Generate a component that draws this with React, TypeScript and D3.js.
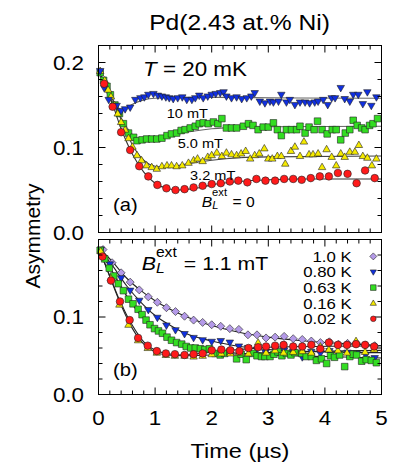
import React from "react";
import * as d3 from "d3";

type P = [number, number];

// ---------- Panel (a): T = 20 mK, various longitudinal fields ----------
const a_B10mT: P[] = [
  [0.03,0.190],[0.10,0.170],[0.18,0.156],[0.27,0.149],[0.32,0.149],[0.40,0.143],[0.47,0.145],[0.56,0.147],
  [0.65,0.156],[0.74,0.158],[0.81,0.159],[0.88,0.162],[0.97,0.163],[1.05,0.161],[1.12,0.160],[1.19,0.159],
  [1.25,0.158],[1.32,0.157],[1.40,0.158],[1.48,0.159],[1.56,0.156],[1.65,0.156],[1.71,0.158],[1.78,0.161],
  [1.85,0.158],[1.93,0.160],[2.00,0.162],[2.07,0.163],[2.15,0.164],[2.21,0.165],[2.26,0.160],[2.35,0.158],
  [2.44,0.159],[2.53,0.157],[2.62,0.158],[2.70,0.160],[2.76,0.164],[2.85,0.154],[2.94,0.152],[3.03,0.154],
  [3.09,0.153],[3.18,0.154],[3.23,0.162],[3.32,0.153],[3.38,0.156],[3.47,0.150],[3.56,0.153],[3.65,0.153],
  [3.73,0.152],[3.82,0.153],[3.88,0.154],[3.97,0.156],[4.05,0.150],[4.12,0.158],[4.18,0.158],[4.28,0.170],
  [4.35,0.157],[4.44,0.154],[4.50,0.162],[4.59,0.162],[4.67,0.151],[4.75,0.165],[4.82,0.149],[4.91,0.159],
];
const a_B5mT: P[] = [
  [0.03,0.188],[0.09,0.179],[0.15,0.172],[0.21,0.162],[0.29,0.150],[0.37,0.140],[0.44,0.128],[0.53,0.117],
  [0.62,0.112],[0.68,0.108],[0.77,0.109],[0.85,0.110],[0.94,0.110],[1.03,0.110],[1.12,0.111],[1.21,0.114],
  [1.29,0.116],[1.38,0.117],[1.46,0.120],[1.53,0.121],[1.62,0.123],[1.71,0.125],[1.78,0.128],[1.85,0.129],
  [1.94,0.128],[2.03,0.130],[2.11,0.128],[2.18,0.134],[2.26,0.123],[2.35,0.123],[2.44,0.123],[2.56,0.125],
  [2.65,0.128],[2.73,0.126],[2.82,0.121],[2.91,0.124],[3.00,0.124],[3.09,0.129],[3.16,0.121],[3.23,0.114],
  [3.32,0.121],[3.41,0.121],[3.50,0.121],[3.56,0.125],[3.65,0.117],[3.72,0.124],[3.81,0.121],[3.87,0.131],
  [3.95,0.121],[4.04,0.116],[4.13,0.121],[4.20,0.121],[4.28,0.109],[4.36,0.117],[4.44,0.121],[4.50,0.132],
  [4.57,0.126],[4.65,0.123],[4.71,0.121],[4.79,0.126],[4.85,0.128],[4.93,0.134],
];
const a_B3_2mT: P[] = [
  [0.03,0.190],[0.11,0.179],[0.17,0.168],[0.22,0.160],[0.28,0.150],[0.34,0.140],[0.40,0.130],[0.47,0.121],
  [0.53,0.111],[0.60,0.101],[0.68,0.091],[0.76,0.085],[0.85,0.079],[0.94,0.077],[1.03,0.075],[1.12,0.078],
  [1.21,0.079],[1.29,0.079],[1.38,0.078],[1.48,0.079],[1.59,0.082],[1.68,0.085],[1.75,0.087],[1.84,0.084],
  [1.93,0.089],[2.00,0.091],[2.09,0.094],[2.18,0.090],[2.26,0.094],[2.35,0.092],[2.44,0.091],[2.52,0.093],
  [2.60,0.096],[2.68,0.087],[2.76,0.091],[2.84,0.093],[2.93,0.099],[3.00,0.087],[3.07,0.087],[3.16,0.090],
  [3.23,0.090],[3.30,0.081],[3.40,0.096],[3.47,0.101],[3.56,0.090],[3.63,0.107],[3.72,0.092],[3.79,0.092],
  [3.88,0.093],[3.95,0.077],[4.03,0.098],[4.12,0.089],[4.20,0.079],[4.28,0.093],[4.35,0.089],[4.44,0.095],
  [4.53,0.095],[4.60,0.103],[4.67,0.090],[4.75,0.088],[4.83,0.079],[4.91,0.087],
];
const a_B0: P[] = [
  [0.10,0.175],[0.25,0.148],[0.40,0.118],[0.56,0.097],[0.72,0.078],[0.88,0.066],[1.04,0.056],[1.20,0.052],
  [1.36,0.050],[1.52,0.051],[1.68,0.053],[1.84,0.055],[2.00,0.057],[2.16,0.058],[2.32,0.060],[2.47,0.061],
  [2.63,0.059],[2.79,0.063],[2.95,0.061],[3.12,0.061],[3.28,0.063],[3.44,0.063],[3.59,0.062],[3.75,0.064],
  [3.91,0.066],[4.07,0.066],[4.23,0.070],[4.40,0.069],[4.56,0.058],[4.71,0.073],[4.88,0.064],
];
const a_fit10: P[] = [[0,0.19],[0.1,0.172],[0.2,0.157],[0.3,0.148],[0.4,0.145],[0.5,0.147],[0.6,0.151],[0.8,0.156],[1.0,0.158],[1.5,0.159],[2,0.159],[3,0.1585],[5,0.158]];
const a_fit5: P[] = [[0,0.19],[0.2,0.163],[0.4,0.135],[0.6,0.115],[0.8,0.108],[1.0,0.109],[1.2,0.112],[1.5,0.117],[2.0,0.122],[2.5,0.124],[3,0.1245],[5,0.125]];
const a_fit3_2: P[] = [[0,0.19],[0.2,0.165],[0.4,0.133],[0.6,0.103],[0.8,0.085],[1.0,0.078],[1.2,0.077],[1.5,0.080],[2.0,0.085],[2.5,0.088],[3,0.089],[5,0.090]];
const a_fit0: P[] = [[0,0.19],[0.2,0.160],[0.4,0.122],[0.6,0.092],[0.8,0.071],[1.0,0.058],[1.2,0.052],[1.4,0.050],[1.6,0.051],[1.8,0.053],[2.0,0.056],[2.5,0.060],[3.0,0.062],[3.5,0.063],[5,0.063]];

// ---------- Panel (b): B_L = 1.1 mT, various temperatures ----------
const b_T1_0K: P[] = [
  [0.08,0.187],[0.24,0.170],[0.40,0.157],[0.56,0.145],[0.72,0.135],[0.88,0.126],[1.04,0.119],[1.20,0.112],
  [1.36,0.107],[1.52,0.101],[1.68,0.096],[1.84,0.093],[2.00,0.090],[2.16,0.088],[2.32,0.085],[2.48,0.084],
  [2.64,0.077],[2.80,0.077],[2.96,0.073],[3.12,0.074],[3.28,0.075],[3.44,0.072],[3.60,0.071],[3.76,0.069],
  [3.92,0.067],[4.08,0.068],[4.24,0.065],[4.40,0.066],[4.56,0.066],[4.72,0.064],[4.88,0.063],
];
const b_T0_80K: P[] = [
  [0.04,0.187],[0.20,0.168],[0.40,0.150],[0.56,0.134],[0.72,0.121],[0.88,0.109],[1.04,0.099],[1.20,0.089],
  [1.36,0.083],[1.52,0.078],[1.68,0.073],[1.84,0.070],[2.00,0.068],[2.16,0.069],[2.32,0.067],[2.48,0.062],
  [2.64,0.060],[2.80,0.058],[2.95,0.054],[3.12,0.058],[3.28,0.057],[3.44,0.055],[3.60,0.048],[3.76,0.055],
  [3.92,0.053],[4.08,0.056],[4.24,0.052],[4.40,0.054],[4.56,0.053],[4.72,0.051],[4.88,0.047],
];
const b_T0_63K: P[] = [
  [0.03,0.186],[0.11,0.175],[0.19,0.163],[0.27,0.153],[0.35,0.143],[0.44,0.134],[0.53,0.123],[0.61,0.117],
  [0.70,0.110],[0.77,0.103],[0.84,0.096],[0.91,0.090],[0.99,0.085],[1.06,0.082],[1.13,0.079],[1.21,0.074],
  [1.29,0.070],[1.38,0.067],[1.47,0.065],[1.55,0.062],[1.63,0.060],[1.71,0.060],[1.80,0.059],[1.88,0.058],
  [1.96,0.059],[2.06,0.053],[2.15,0.051],[2.23,0.053],[2.32,0.055],[2.44,0.046],[2.52,0.052],[2.61,0.045],
  [2.73,0.053],[2.80,0.050],[2.88,0.049],[2.94,0.049],[3.03,0.049],[3.10,0.052],[3.17,0.055],[3.24,0.050],
  [3.32,0.053],[3.40,0.051],[3.47,0.054],[3.59,0.053],[3.67,0.049],[3.76,0.049],[3.85,0.044],[3.94,0.046],
  [4.03,0.040],[4.10,0.050],[4.17,0.048],[4.26,0.051],[4.35,0.036],[4.44,0.049],[4.50,0.052],[4.56,0.051],
  [4.65,0.043],[4.73,0.045],[4.82,0.044],[4.91,0.041],
];
const b_T0_16K: P[] = [
  [0.04,0.185],[0.22,0.150],[0.37,0.116],[0.53,0.090],[0.70,0.070],[0.87,0.060],[1.03,0.054],[1.19,0.051],
  [1.35,0.050],[1.52,0.050],[1.68,0.049],[1.84,0.050],[2.00,0.052],[2.17,0.053],[2.33,0.053],[2.49,0.054],
  [2.65,0.053],[2.82,0.067],[2.96,0.054],[3.12,0.057],[3.27,0.054],[3.44,0.055],[3.60,0.056],[3.76,0.054],
  [3.92,0.062],[4.07,0.058],[4.23,0.057],[4.39,0.054],[4.55,0.069],[4.71,0.055],[4.87,0.058],
];
const b_T0_02K: P[] = [
  [0.07,0.178],[0.22,0.147],[0.38,0.120],[0.55,0.096],[0.70,0.073],[0.87,0.063],[1.03,0.056],[1.19,0.053],
  [1.35,0.052],[1.52,0.051],[1.68,0.052],[1.84,0.053],[2.00,0.057],[2.17,0.058],[2.33,0.057],[2.49,0.056],
  [2.65,0.060],[2.82,0.061],[2.96,0.062],[3.12,0.063],[3.27,0.064],[3.44,0.062],[3.60,0.062],[3.76,0.064],
  [3.92,0.059],[4.07,0.067],[4.23,0.064],[4.39,0.064],[4.55,0.065],[4.71,0.064],[4.87,0.062],
];
const b_fit1_0: P[] = [[0,0.19],[0.25,0.171],[0.5,0.150],[0.75,0.134],[1.0,0.121],[1.5,0.102],[2.0,0.089],[2.5,0.080],[3.0,0.074],[3.5,0.070],[4.0,0.067],[4.5,0.065],[5,0.063]];
const b_fit0_80: P[] = [[0,0.19],[0.25,0.166],[0.5,0.140],[0.75,0.119],[1.0,0.102],[1.25,0.090],[1.5,0.080],[2.0,0.069],[2.5,0.062],[3.0,0.058],[4,0.055],[5,0.054]];
const b_fit0_63: P[] = [[0,0.19],[0.25,0.158],[0.5,0.127],[0.75,0.102],[1.0,0.085],[1.25,0.073],[1.5,0.065],[2.0,0.057],[2.5,0.053],[3,0.051],[4,0.049],[5,0.047]];
const b_fit0_16: P[] = [[0,0.19],[0.2,0.152],[0.4,0.115],[0.6,0.085],[0.8,0.065],[1.0,0.055],[1.2,0.051],[1.5,0.050],[2,0.051],[3,0.054],[5,0.057]];
const b_fit0_02: P[] = [[0,0.19],[0.2,0.153],[0.4,0.117],[0.6,0.089],[0.8,0.068],[1.0,0.057],[1.2,0.053],[1.5,0.051],[2.0,0.055],[2.5,0.058],[3,0.061],[5,0.063]];

const legendLabels = ["1.0 K", "0.80 K", "0.63 K", "0.16 K", "0.02 K"];
const fieldLabels = ["10 mT", "5.0 mT", "3.2 mT"];
const xTickLabels = ["0", "1", "2", "3", "4", "5"];
const yMajor = [0, 0.1, 0.2];

// ---------- styling ----------
const FONT = "'Liberation Sans', Arial, Helvetica, sans-serif";
const SX = 1.12;
const COL = {
  red: "#ff1a1a",
  blue: "#1030e0",
  green: "#33dd22",
  yellow: "#f5ea00",
  purple: "#b49ae8",
};

type Shape = "circle" | "square" | "up" | "down" | "diamond";
function shapePath(s: Shape, r: number): string {
  switch (s) {
    case "circle":
      return `M${r},0A${r},${r} 0 1,1 ${-r},0A${r},${r} 0 1,1 ${r},0Z`;
    case "square":
      return `M${-r},${-r}H${r}V${r}H${-r}Z`;
    case "up":
      return `M0,${-r * 1.15}L${r * 1.1},${r * 0.75}L${-r * 1.1},${r * 0.75}Z`;
    case "down":
      return `M0,${r * 1.15}L${r * 1.1},${-r * 0.75}L${-r * 1.1},${-r * 0.75}Z`;
    case "diamond":
      return `M0,${-r * 1.25}L${r * 1.25},0L0,${r * 1.25}L${-r * 1.25},0Z`;
  }
}

const xS = d3.scaleLinear().domain([0, 5]).range([98.5, 381.5]);
const yA = d3.scaleLinear().domain([0, 0.22]).range([232.5, 45.5]);
const yB = d3.scaleLinear().domain([0, 0.2]).range([394.5, 239.5]);

function Txt(props: { x: number; y: number; size: number; anchor?: string; italic?: boolean; children: any }) {
  return (
    <text
      transform={`translate(${props.x},${props.y}) scale(${SX},1)`}
      fontSize={props.size}
      textAnchor={props.anchor || "start"}
      fontStyle={props.italic ? "italic" : "normal"}
      fontFamily={FONT}
      fill="#000"
    >
      {props.children}
    </text>
  );
}

function Frame({ y }: { y: d3.ScaleLinear<number, number> }) {
  const [y0, y1] = y.range();
  const top = Math.min(y0, y1), bot = Math.max(y0, y1);
  const [x0, x1] = xS.range();
  const minorX = xS.ticks(25);
  const minorY = y.ticks(11);
  const isMajX = (v: number) => Math.abs(v - Math.round(v)) < 1e-6;
  const isMajY = (v: number) => Math.abs(v * 10 - Math.round(v * 10)) < 1e-6;
  return (
    <g stroke="#000" strokeWidth={1} fill="none">
      {minorX.map((v, i) => {
        const L = isMajX(v) ? 7 : 4;
        const xx = xS(v);
        return (
          <g key={"x" + i}>
            <line x1={xx} x2={xx} y1={bot} y2={bot - L} />
            <line x1={xx} x2={xx} y1={top} y2={top + L} />
          </g>
        );
      })}
      {minorY.map((v, i) => {
        const L = isMajY(v) ? 7 : 4;
        const yy = y(v);
        return (
          <g key={"y" + i}>
            <line x1={x0} x2={x0 + L} y1={yy} y2={yy} />
            <line x1={x1} x2={x1 - L} y1={yy} y2={yy} />
          </g>
        );
      })}
      <rect x={x0} y={top} width={x1 - x0} height={bot - top} />
    </g>
  );
}

function Series({ data, y, shape, color, r }: { data: P[]; y: d3.ScaleLinear<number, number>; shape: Shape; color: string; r: number }) {
  const d = shapePath(shape, r);
  return (
    <g>
      {data.map((p, i) => (
        <path key={i} d={d} transform={`translate(${xS(p[0])},${y(p[1])})`} fill={color} stroke="#222" strokeWidth={0.6} />
      ))}
    </g>
  );
}

function Fit({ data, y, color }: { data: P[]; y: d3.ScaleLinear<number, number>; color: string }) {
  const line = d3
    .line<P>()
    .x((p) => xS(p[0]))
    .y((p) => y(p[1]))
    .curve(d3.curveMonotoneX);
  return <path d={line(data) || ""} fill="none" stroke={color} strokeWidth={1.1} />;
}

export default function App() {
  const legendShapes: { shape: Shape; color: string }[] = [
    { shape: "diamond", color: COL.purple },
    { shape: "down", color: COL.blue },
    { shape: "square", color: COL.green },
    { shape: "up", color: COL.yellow },
    { shape: "circle", color: COL.red },
  ];
  return (
    <svg
      width={415}
      height={469}
      style={{ position: "absolute", left: 0, top: 0, background: "#fff", display: "block" }}
    >
      <rect x={0} y={0} width={415} height={469} fill="#fff" />
      {/* Title */}
      <Txt x={239.5} y={30} size={22} anchor="middle">Pd(2.43 at.% Ni)</Txt>

      {/* Panel (a) */}
      <Fit data={a_fit10} y={yA} color="#666" />
      <Fit data={a_fit5} y={yA} color="#666" />
      <Fit data={a_fit3_2} y={yA} color="#444" />
      <Fit data={a_fit0} y={yA} color="#333" />
      <Series data={a_B5mT} y={yA} shape="square" color={COL.green} r={3.3} />
      <Series data={a_B3_2mT} y={yA} shape="up" color={COL.yellow} r={3.4} />
      <Series data={a_B10mT} y={yA} shape="down" color={COL.blue} r={3.4} />
      <Series data={a_B0} y={yA} shape="circle" color={COL.red} r={3.8} />
      <Frame y={yA} />

      <Txt x={143} y={76} size={20}>
        <tspan fontStyle="italic">T</tspan> = 20 mK
      </Txt>
      <Txt x={166.7} y={118.3} size={13}>{fieldLabels[0]}</Txt>
      <Txt x={177.7} y={148} size={13}>{fieldLabels[1]}</Txt>
      <Txt x={190} y={180} size={13}>{fieldLabels[2]}</Txt>
      <Txt x={201.7} y={206.5} size={14}>
        <tspan fontStyle="italic">B</tspan>
        <tspan fontStyle="italic" fontSize={10} dy={2.5}>L</tspan>
        <tspan fontSize={10} dx={-5.6} dy={-13}>ext</tspan>
        <tspan dy={10.5} dx={1}> = 0</tspan>
      </Txt>
      <Txt x={113} y={211} size={18}>(a)</Txt>

      {/* Panel (b) */}
      <Fit data={b_fit1_0} y={yB} color="#222" />
      <Fit data={b_fit0_80} y={yB} color="#222" />
      <Fit data={b_fit0_63} y={yB} color="#222" />
      <Fit data={b_fit0_16} y={yB} color="#222" />
      <Fit data={b_fit0_02} y={yB} color="#222" />
      <Series data={b_T1_0K} y={yB} shape="diamond" color={COL.purple} r={3.2} />
      <Series data={b_T0_80K} y={yB} shape="down" color={COL.blue} r={3.4} />
      <Series data={b_T0_63K} y={yB} shape="square" color={COL.green} r={3.3} />
      <Series data={b_T0_16K} y={yB} shape="up" color={COL.yellow} r={3.4} />
      <Series data={b_T0_02K} y={yB} shape="circle" color={COL.red} r={3.8} />
      <Frame y={yB} />

      <Txt x={141.7} y={270} size={19}>
        <tspan fontStyle="italic">B</tspan>
        <tspan fontStyle="italic" fontSize={14} dy={2.5}>L</tspan>
        <tspan fontSize={14} dx={-7.8} dy={-15.5}>ext</tspan>
        <tspan dy={13} dx={1}> = 1.1 mT</tspan>
      </Txt>
      <Txt x={113} y={376} size={18}>(b)</Txt>

      {legendLabels.map((lab, i) => {
        const yy = 261.7 + i * 15.6;
        return (
          <g key={lab}>
            <Txt x={351.7} y={yy} size={15} anchor="end">{lab}</Txt>
            <path
              d={shapePath(legendShapes[i].shape, 2.8)}
              transform={`translate(${373.3},${yy - 5.3})`}
              fill={legendShapes[i].color}
              stroke="#222"
              strokeWidth={0.6}
            />
          </g>
        );
      })}

      {/* Axes labels */}
      {yMajor.map((v) => (
        <Txt key={"ya" + v} x={84} y={yA(v) + 7.3} size={20} anchor="end">{d3.format(".1f")(v)}</Txt>
      ))}
      {yMajor.slice(0, 2).map((v) => (
        <Txt key={"yb" + v} x={84} y={yB(v) + 7.3} size={20} anchor="end">{d3.format(".1f")(v)}</Txt>
      ))}
      {xTickLabels.map((lab, i) => (
        <Txt key={"xt" + i} x={xS(i)} y={425} size={20} anchor="middle">{lab}</Txt>
      ))}
      <Txt x={240} y={458} size={21} anchor="middle">Time (µs)</Txt>
      <text
        transform={`translate(40,236) rotate(-90)`}
        fontSize={21}
        textAnchor="middle"
        fontFamily={FONT}
      >
        Asymmetry
      </text>
    </svg>
  );
}
